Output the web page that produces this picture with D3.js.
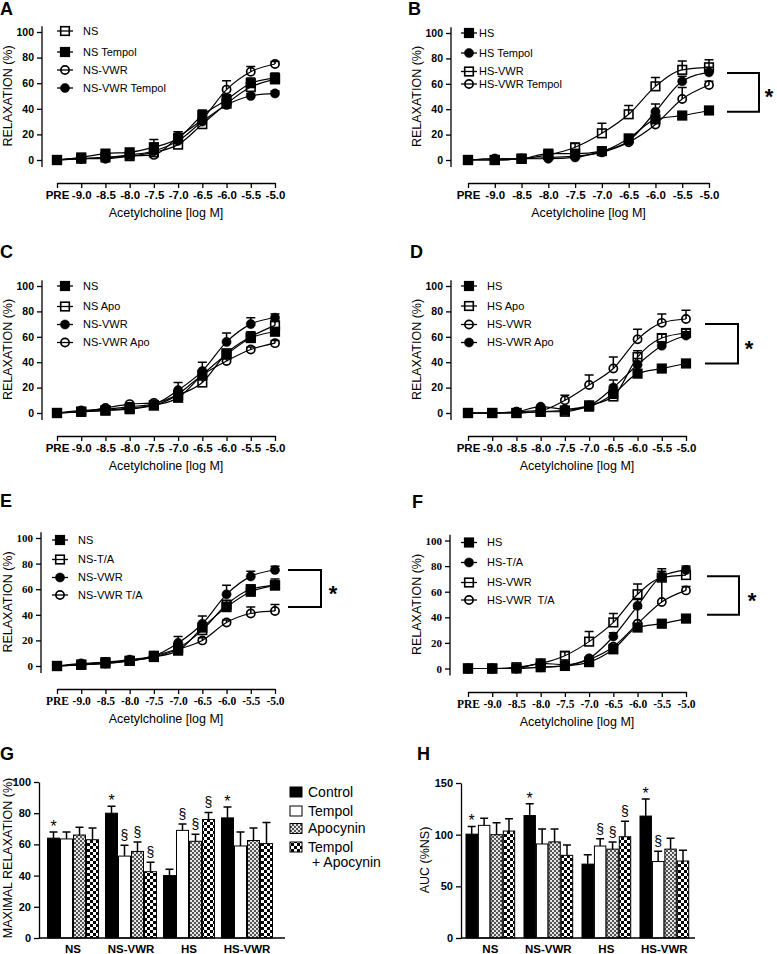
<!DOCTYPE html>
<html>
<head>
<meta charset="utf-8">
<script src="https://cdnjs.cloudflare.com/ajax/libs/d3/7.8.5/d3.min.js"></script>
<style>
body { margin: 0; background: #fff; }
text { fill: #000; }
</style>
</head>
<body>
<div id="fig"></div>
<script>
document.addEventListener('DOMContentLoaded', init);

let svgWidth = 777;
let svgHeight = 954;
let sansFont = '"Liberation Sans", Arial, sans-serif';
let serifFont = '"Liberation Serif", "DejaVu Serif", serif';

let doses = ["PRE", "-9.0", "-8.5", "-8.0", "-7.5", "-7.0", "-6.5", "-6.0", "-5.5", "-5.0"];
let curveTicks = [0, 20, 40, 60, 80, 100];

// A
let aNames = ["NS", "NS Tempol", "NS-VWR", "NS-VWR Tempol"];
let aMeans = [
    [0, 1, 2, 3, 6, 12, 28, 44, 57, 63],
    [0, 2, 5, 6, 10, 17, 35, 47, 60, 64],
    [0, 1, 1, 3, 4, 18, 32, 55, 69, 75],
    [0, 1, 2, 4, 7, 15, 30, 43, 50, 52]
];
let aErrs = [
    [0, 0, 1, 1, 2, 3, 3, 3, 3, 3],
    [0, 1, 2, 2, 6, 5, 4, 4, 4, 4],
    [0, 0, 1, 1, 2, 4, 4, 7, 4, 2],
    [0, 0, 1, 1, 2, 3, 3, 3, 2, 2]
];

// B
let bNames = ["HS", "HS Tempol", "HS-VWR", "HS-VWR Tempol"];
let bMeans = [
    [0, 0, 1, 5, 5, 7, 17, 32, 35, 39],
    [0, 1, 1, 1, 2, 7, 15, 38, 62, 69],
    [0, 0, 1, 4, 10, 21, 36, 58, 71, 73],
    [0, 1, 1, 2, 3, 6, 14, 28, 48, 59]
];
let bErrs = [
    [0, 0, 0, 1, 1, 1, 2, 3, 2, 2],
    [0, 0, 0, 0, 1, 1, 2, 6, 4, 4],
    [0, 0, 0, 1, 3, 8, 7, 7, 7, 6],
    [0, 0, 0, 0, 1, 1, 2, 3, 9, 3]
];
let bBracket = [68.5, 38];

// C
let cNames = ["NS", "NS Apo", "NS-VWR", "NS-VWR Apo"];
let cMeans = [
    [0, 1, 2, 3, 6, 12, 30, 46, 59, 64],
    [0, 1, 2, 4, 6, 14, 24, 47, 60, 69],
    [0, 2, 3, 5, 7, 18, 33, 56, 70, 75],
    [0, 1, 4, 7, 8, 15, 30, 41, 50, 55]
];
let cErrs = [
    [0, 0, 1, 1, 1, 2, 3, 3, 3, 3],
    [0, 0, 1, 1, 1, 2, 2, 3, 4, 3],
    [0, 0, 1, 1, 1, 6, 7, 7, 5, 3],
    [0, 0, 1, 1, 1, 2, 2, 2, 2, 2]
];

// D
let dNames = ["HS", "HS Apo", "HS-VWR", "HS-VWR Apo"];
let dMeans = [
    [0, 0, 0, 1, 2, 5, 15, 31, 35, 39],
    [0, 0, 0, 1, 1, 6, 13, 44, 59, 63],
    [0, 0, 1, 2, 10, 22, 35, 58, 71, 74],
    [0, 0, 1, 5, 3, 6, 20, 38, 53, 61]
];
let dErrs = [
    [0, 0, 0, 0, 1, 1, 2, 3, 3, 2],
    [0, 0, 0, 0, 0, 1, 2, 5, 3, 3],
    [0, 0, 0, 1, 4, 8, 9, 8, 7, 7],
    [0, 0, 0, 1, 1, 1, 6, 5, 3, 3]
];
let dBracket = [70, 39];

// E
let eNames = ["NS", "NS-T/A", "NS-VWR", "NS-VWR T/A"];
let eMeans = [
    [0, 1, 2, 4, 7, 12, 30, 46, 58, 63],
    [0, 1, 3, 4, 8, 14, 28, 48, 60, 63],
    [0, 2, 3, 5, 8, 18, 33, 56, 70, 75],
    [0, 1, 2, 4, 7, 13, 20, 34, 41, 43]
];
let eErrs = [
    [0, 0, 1, 1, 1, 2, 3, 3, 4, 5],
    [0, 0, 1, 1, 1, 2, 3, 3, 3, 3],
    [0, 0, 0, 1, 1, 5, 6, 7, 4, 3],
    [0, 0, 0, 0, 1, 1, 2, 2, 5, 5]
];
let eBracket = [75, 46];

// F
let fNames = ["HS", "HS-T/A", "HS-VWR", "HS-VWR  T/A"];
let fMeans = [
    [0, 0, 0, 1, 2, 5, 15, 32, 35, 39],
    [0, 0, 0, 4, 3, 8, 25, 49, 72, 77],
    [0, 0, 1, 4, 10, 21, 36, 58, 71, 73],
    [0, 0, 0, 1, 2, 7, 17, 35, 52, 61]
];
let fErrs = [
    [0, 0, 0, 0, 1, 1, 2, 3, 3, 2],
    [0, 0, 0, 1, 1, 1, 3, 5, 4, 3],
    [0, 0, 0, 1, 3, 8, 7, 8, 7, 6],
    [0, 0, 0, 0, 1, 1, 2, 12, 17, 3]
];
let fBracket = [72, 42];

// G and H
let groups = ["NS", "NS-VWR", "HS", "HS-VWR"];
let treatments = ["Control", "Tempol", "Apocynin", "Tempol + Apocynin"];
let gTicks = [0, 20, 40, 60, 80, 100];
let gMeans = [[64, 63.5, 66, 63], [80, 52.5, 55.5, 42.5], [40, 69, 62, 76], [77, 59, 62.5, 60.5]];
let gErrs = [[4, 4.5, 5, 7.5], [4.5, 7, 6, 6], [4, 4, 4.5, 4.5], [7, 9, 8, 13.5]];
let gMarks = [["*", "", "", ""], ["*", "§", "§", "§"], ["", "§", "§", "§"], ["*", "", "", ""]];
let hTicks = [0, 50, 100, 150];
let hMeans = [[100.5, 109, 100, 103.5], [118.5, 91, 93, 80], [71.5, 89, 86, 98], [118, 74, 86, 74.5]];
let hErrs = [[7.5, 7, 11.5, 12], [11.5, 14.5, 12.5, 10], [9, 7, 7, 15], [16.5, 10, 10.5, 10.5]];
let hMarks = [["*", "", "", ""], ["*", "", "", ""], ["", "§", "§", "§"], ["*", "§", "", ""]];

function init() {
    let svg = d3.select("#fig")
        .append("svg")
        .attr("width", svgWidth)
        .attr("height", svgHeight);

    svg.append("rect")
        .attr("width", svgWidth)
        .attr("height", svgHeight)
        .attr("fill", "#fff");

    makePatterns(svg);

    let left = { axX: 42, x0: 57, x1: 275, legM: 65, legT: 83, labX: 8 };
    let right = { axX: 451, x0: 468, x1: 686, legM: 469, legT: 487, labX: 417 };

    drawCurvePanel(svg, Object.assign({}, left, {
        letter: "A", lx: 0, ly: 15, y0: 160, y100: 32, xAxY: 183,
        legY: [31, 52, 70, 88], names: aNames, means: aMeans, errs: aErrs,
        symbols: ["sqOpen", "sqFill", "ciOpen", "ciFill"]
    }));
    drawCurvePanel(svg, Object.assign({}, right, {
        letter: "B", lx: 408, ly: 15, y0: 160, y100: 33, xAxY: 183, x1: 709, legT: 479,
        legY: [33, 53, 71.5, 84], names: bNames, means: bMeans, errs: bErrs,
        symbols: ["sqFill", "ciFill", "sqOpen", "ciOpen"],
        bracket: bBracket, bx: [18, 50, 60]
    }));
    drawCurvePanel(svg, Object.assign({}, left, {
        letter: "C", lx: 0, ly: 258, y0: 413, y100: 286, xAxY: 436,
        legY: [286, 306.5, 324.5, 342.5], names: cNames, means: cMeans, errs: cErrs,
        symbols: ["sqFill", "sqOpen", "ciFill", "ciOpen"]
    }));
    drawCurvePanel(svg, Object.assign({}, right, {
        letter: "D", lx: 410, ly: 258, y0: 413, y100: 286, xAxY: 436,
        legY: [286, 306, 324.5, 342.5], names: dNames, means: dMeans, errs: dErrs,
        symbols: ["sqFill", "sqOpen", "ciOpen", "ciFill"],
        bracket: dBracket, bx: [19, 52, 63]
    }));
    drawCurvePanel(svg, Object.assign({}, left, {
        letter: "E", lx: 0, ly: 507, y0: 666, y100: 538, xAxY: 689, axX: 41,
        legM: 60, legT: 78, serif: true,
        legY: [540, 559.5, 577.5, 595], names: eNames, means: eMeans, errs: eErrs,
        symbols: ["sqFill", "sqOpen", "ciFill", "ciOpen"],
        bracket: eBracket, bx: [13, 46, 58]
    }));
    drawCurvePanel(svg, Object.assign({}, right, {
        letter: "F", lx: 412, ly: 508, y0: 668.5, y100: 540.5, xAxY: 692, axX: 450, serif: true,
        legY: [542.5, 562.5, 582.5, 600], names: fNames, means: fMeans, errs: fErrs,
        symbols: ["sqFill", "ciFill", "sqOpen", "ciOpen"],
        bracket: fBracket, bx: [21, 53, 66]
    }));

    drawBarPanel(svg, {
        letter: "G", lx: 0, ly: 760, axX: 39, xEnd: 285, range: [43, 277],
        padIn: 0.103, padOut: 0.069, max: 100, yTop: 782, ticks: gTicks,
        means: gMeans, errs: gErrs, marks: gMarks,
        label: "MAXIMAL RELAXATION (%)", labX: 8, labY: 858, legend: true
    });
    drawBarPanel(svg, {
        letter: "H", lx: 417, ly: 760, axX: 461, xEnd: 695, range: [462, 692.7],
        padIn: 0.143, padOut: 0.06, max: 150, yTop: 783, ticks: hTicks,
        means: hMeans, errs: hErrs, marks: hMarks,
        label: "AUC (%NS)", labX: 425, labY: 860, legend: false
    });
}

function makePatterns(svg) {
    let defs = svg.append("defs");

    let apo = defs.append("pattern")
        .attr("id", "apo")
        .attr("patternUnits", "userSpaceOnUse")
        .attr("width", 4)
        .attr("height", 4);
    apo.append("rect").attr("width", 4).attr("height", 4).attr("fill", "#e6e6e6");
    apo.append("rect").attr("width", 2).attr("height", 2).attr("fill", "#555");
    apo.append("rect").attr("x", 2).attr("y", 2).attr("width", 2).attr("height", 2).attr("fill", "#555");

    let ta = defs.append("pattern")
        .attr("id", "ta")
        .attr("patternUnits", "userSpaceOnUse")
        .attr("width", 6)
        .attr("height", 6);
    ta.append("rect").attr("width", 6).attr("height", 6).attr("fill", "#fff");
    ta.append("rect").attr("width", 3).attr("height", 3).attr("fill", "#000");
    ta.append("rect").attr("x", 3).attr("y", 3).attr("width", 3).attr("height", 3).attr("fill", "#000");
}

function drawMarker(g, type, cx, cy) {
    if (type == "sqOpen" || type == "sqFill") {
        g.append("rect")
            .attr("x", cx - 4.3)
            .attr("y", cy - 4.3)
            .attr("width", 8.6)
            .attr("height", 8.6)
            .attr("fill", type == "sqFill" ? "#000" : "none")
            .attr("stroke", "#000")
            .attr("stroke-width", 1.6);
    } else {
        g.append("circle")
            .attr("cx", cx)
            .attr("cy", cy)
            .attr("r", type == "ciFill" ? 4.6 : 4.1)
            .attr("fill", type == "ciFill" ? "#000" : "none")
            .attr("stroke", "#000")
            .attr("stroke-width", type == "ciFill" ? 0.5 : 1.7);
    }
}

function styleAxis(axisG, font, size) {
    axisG.attr("font-family", null);
    axisG.selectAll("path, line")
        .attr("stroke", "#000")
        .attr("stroke-width", 1.3);
    axisG.selectAll("text")
        .style("font-family", font)
        .style("font-weight", "bold")
        .style("font-size", size + "px")
        .attr("fill", "#000");
}

function drawCurvePanel(svg, p) {
    let xScale = d3.scalePoint()
        .domain(doses)
        .range([p.x0, p.x1]);

    let yScale = d3.scaleLinear()
        .domain([0, 100])
        .range([p.y0, p.y100]);

    let tickFont = p.serif ? serifFont : sansFont;
    let g = svg.append("g");

    // panel letter
    g.append("text")
        .text(p.letter)
        .attr("x", p.lx)
        .attr("y", p.ly)
        .attr("font-family", sansFont)
        .attr("font-weight", "bold")
        .attr("font-size", "18px");

    // y axis, line runs a bit past 0 and 100
    let yAxis = d3.axisLeft(yScale)
        .tickValues(curveTicks)
        .tickSize(5)
        .tickPadding(3)
        .tickSizeOuter(0);
    let yg = g.append("g")
        .attr("transform", "translate(" + p.axX + ",0)")
        .call(yAxis);
    yg.select(".domain").remove();
    yg.append("line")
        .attr("y1", yScale(104.5))
        .attr("y2", yScale(-5.5));
    styleAxis(yg, tickFont, p.serif ? 11 : 10.5);

    // x axis, detached below the plot
    let xAxis = d3.axisBottom(xScale)
        .tickSize(5)
        .tickPadding(3)
        .tickSizeOuter(0);
    let xg = g.append("g")
        .attr("transform", "translate(0," + p.xAxY + ")")
        .call(xAxis);
    styleAxis(xg, tickFont, p.serif ? 11.5 : 11.5);

    g.append("text")
        .text("Acetylcholine [log M]")
        .attr("x", (p.x0 + p.x1) / 2)
        .attr("y", p.xAxY + 30)
        .attr("dy", "0.35em")
        .attr("text-anchor", "middle")
        .attr("font-family", sansFont)
        .attr("font-size", "12.5px");

    g.append("text")
        .text("RELAXATION (%)")
        .attr("transform", "translate(" + p.labX + "," + (p.y0 + p.y100) / 2 + ") rotate(-90)")
        .attr("dy", "0.35em")
        .attr("text-anchor", "middle")
        .attr("font-family", sansFont)
        .attr("font-size", "12.5px")
        .attr("fill", "#111");

    // fitted curves
    let line = d3.line()
        .x((d, i) => xScale(doses[i]))
        .y((d) => yScale(d))
        .curve(d3.curveMonotoneX);

    p.means.forEach((m) => {
        g.append("path")
            .attr("d", line(m))
            .attr("fill", "none")
            .attr("stroke", "#000")
            .attr("stroke-width", 1.2);
    });

    // error bars (upper half)
    p.means.forEach((m, s) => {
        m.forEach((v, i) => {
            let e = p.errs[s][i];
            if (e <= 0) return;
            let cx = xScale(doses[i]);
            g.append("path")
                .attr("d", "M" + cx + "," + yScale(v) + "V" + yScale(v + e) +
                    "M" + (cx - 4.5) + "," + yScale(v + e) + "H" + (cx + 4.5))
                .attr("fill", "none")
                .attr("stroke", "#000")
                .attr("stroke-width", 1.5);
        });
    });

    // symbols
    p.means.forEach((m, s) => {
        m.forEach((v, i) => {
            drawMarker(g, p.symbols[s], xScale(doses[i]), yScale(v));
        });
    });

    // legend
    p.names.forEach((name, s) => {
        let ly = p.legY[s];
        g.append("line")
            .attr("x1", p.legM - 8)
            .attr("x2", p.legM + 8)
            .attr("y1", ly)
            .attr("y2", ly)
            .attr("stroke", "#000")
            .attr("stroke-width", 1.3);
        drawMarker(g, p.symbols[s], p.legM, ly);
        g.append("text")
            .text(name)
            .attr("x", p.legT)
            .attr("y", ly)
            .attr("dy", "0.35em")
            .attr("font-family", sansFont)
            .attr("font-size", "11px")
            .style("white-space", "pre");
    });

    // significance bracket
    if (p.bracket) {
        let bx1 = p.x1 + p.bx[0];
        let bx2 = p.x1 + p.bx[1];
        let yt = yScale(p.bracket[0]);
        let yb = yScale(p.bracket[1]);
        g.append("path")
            .attr("d", "M" + bx1 + "," + yt + "H" + bx2 + "V" + yb + "H" + bx1)
            .attr("fill", "none")
            .attr("stroke", "#000")
            .attr("stroke-width", 2);
        g.append("text")
            .text("*")
            .attr("x", p.x1 + p.bx[2])
            .attr("y", (yt + yb) / 2 + 12)
            .attr("text-anchor", "middle")
            .attr("font-family", sansFont)
            .attr("font-weight", "bold")
            .attr("font-size", "22px");
    }
}

function drawBarPanel(svg, p) {
    let fills = ["#000", "#fff", "url(#apo)", "url(#ta)"];

    let x0 = d3.scaleBand()
        .domain(groups)
        .range(p.range)
        .paddingInner(p.padIn)
        .paddingOuter(p.padOut);

    let x1 = d3.scaleBand()
        .domain(treatments)
        .range([0, x0.bandwidth()]);

    let yScale = d3.scaleLinear()
        .domain([0, p.max])
        .range([938, p.yTop]);

    let g = svg.append("g");

    g.append("text")
        .text(p.letter)
        .attr("x", p.lx)
        .attr("y", p.ly)
        .attr("font-family", sansFont)
        .attr("font-weight", "bold")
        .attr("font-size", "18px");

    // bars
    groups.forEach((grp, gi) => {
        treatments.forEach((t, ti) => {
            let v = p.means[gi][ti];
            let e = p.errs[gi][ti];
            let bx = x0(grp) + x1(t);
            let cx = bx + x1.bandwidth() / 2;

            g.append("path")
                .attr("d", "M" + cx + "," + yScale(v) + "V" + yScale(v + e) +
                    "M" + (cx - 4) + "," + yScale(v + e) + "H" + (cx + 4))
                .attr("fill", "none")
                .attr("stroke", "#000")
                .attr("stroke-width", 1.5);

            g.append("rect")
                .attr("x", bx + 0.5)
                .attr("y", yScale(v))
                .attr("width", x1.bandwidth() - 1)
                .attr("height", yScale(0) - yScale(v))
                .attr("fill", fills[ti])
                .attr("stroke", "#000")
                .attr("stroke-width", 1);

            let mark = p.marks[gi][ti];
            if (mark) {
                g.append("text")
                    .text(mark)
                    .attr("x", cx)
                    .attr("y", yScale(v + e) - (mark == "*" ? 0 : 5))
                    .attr("text-anchor", "middle")
                    .attr("font-family", sansFont)
                    .attr("font-size", mark == "*" ? "16px" : "14px");
            }
        });
    });

    // axes
    let yAxis = d3.axisLeft(yScale)
        .tickValues(p.ticks)
        .tickSize(5)
        .tickPadding(3)
        .tickSizeOuter(0);
    let yg = g.append("g")
        .attr("transform", "translate(" + p.axX + ",0)")
        .call(yAxis);
    styleAxis(yg, sansFont, 11);

    g.append("line")
        .attr("x1", p.axX)
        .attr("x2", p.xEnd)
        .attr("y1", yScale(0))
        .attr("y2", yScale(0))
        .attr("stroke", "#000")
        .attr("stroke-width", 1.3);

    groups.forEach((grp) => {
        g.append("text")
            .text(grp)
            .attr("x", x0(grp) + x0.bandwidth() / 2)
            .attr("y", 949)
            .attr("dy", "0.35em")
            .attr("text-anchor", "middle")
            .attr("font-family", sansFont)
            .attr("font-weight", "bold")
            .attr("font-size", "11.5px");
    });

    g.append("text")
        .text(p.label)
        .attr("transform", "translate(" + p.labX + "," + p.labY + ") rotate(-90)")
        .attr("dy", "0.35em")
        .attr("text-anchor", "middle")
        .attr("font-family", sansFont)
        .attr("font-size", "12.5px")
        .attr("fill", "#111");

    if (p.legend) {
        let legY = [792, 811, 828.5, 847];
        treatments.forEach((t, ti) => {
            g.append("rect")
                .attr("x", 290)
                .attr("y", legY[ti] - 5)
                .attr("width", 12)
                .attr("height", 10)
                .attr("fill", fills[ti])
                .attr("stroke", "#000")
                .attr("stroke-width", 1);
            let parts = t.split(" + ");
            g.append("text")
                .text(parts[0])
                .attr("x", 308)
                .attr("y", legY[ti])
                .attr("dy", "0.35em")
                .attr("font-family", sansFont)
                .attr("font-size", "14px");
            if (parts.length > 1) {
                g.append("text")
                    .text("+ " + parts[1])
                    .attr("x", 312)
                    .attr("y", legY[ti] + 15)
                    .attr("dy", "0.35em")
                    .attr("font-family", sansFont)
                    .attr("font-size", "14px");
            }
        });
    }
}
</script>
</body>
</html>
